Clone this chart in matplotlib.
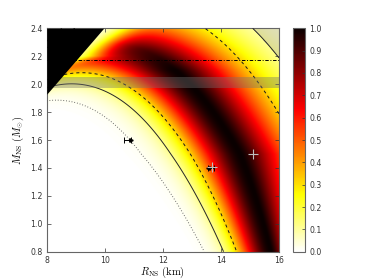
import numpy as np
import matplotlib
matplotlib.use('Agg')
import matplotlib.pyplot as plt

plt.rcParams['mathtext.fontset'] = 'cm'
plt.rcParams['lines.scale_dashes'] = False
plt.rcParams['font.family'] = ['DejaVu Sans']

# ---- data ----
r_range = [8.0, 16.0]
m_range = [0.8, 2.4]
x_ticks = [8, 10, 12, 14, 16]
y_ticks = [0.8, 1.0, 1.2, 1.4, 1.6, 1.8, 2.0, 2.2, 2.4]
cbar_ticks = [0.0, 0.1, 0.2, 0.3, 0.4, 0.5, 0.6, 0.7, 0.8, 0.9, 1.0]

# likelihood in apparent radius R_inf (km): peak and widths versus mass
mass_nodes = [0.8, 1.5, 2.4]
rinf_peak = [17.05, 17.55, 17.55]
rinf_sigma_low = [0.78, 1.07, 1.07]
rinf_scale_high = [0.9, 1.85, 1.85]
tail_power = 1.4

# brightness of the map versus mass (fades at the top)
amp_mass = [0.8, 2.1, 2.25, 2.4]
amp_value = [1.0, 1.0, 0.92, 0.8]

# soft suppression near the compactness limit (centre in M/R, versus mass)
supp_mass = [0.8, 2.1, 2.2, 2.4]
supp_centre = [0.27, 0.26, 0.228, 0.222]
supp_width = 0.008
compact_limit = 0.241          # M/R above which the region is black

contour_levels = [0.015, 0.12, 0.33]
band_mass = [1.97, 2.05]
limit_mass = 2.17

marker_left = [10.9, 1.6]
marker_mid = [13.54, 1.40]
plus_points_r = [13.69, 15.1]
plus_points_m = [1.41, 1.5]

# ---- figure ----
fig = plt.figure(figsize=(3.74, 2.80), dpi=100)
ax = fig.add_axes([46.7/374, 1-251.7/280, 232.3/374, 223.4/280])
cax = fig.add_axes([293/374, 1-251.7/280, 12/374, 223.4/280])

r = np.linspace(r_range[0], r_range[1], 600)
m = np.linspace(m_range[0], m_range[1], 600)
R, M = np.meshgrid(r, m)
x = 1 - 2.95 * M / R
Rinf = R / np.sqrt(np.clip(x, 1e-6, None))
c = np.interp(M, mass_nodes, rinf_peak)
sl = np.interp(M, mass_nodes, rinf_sigma_low)
sh = np.interp(M, mass_nodes, rinf_scale_high)
d = Rinf - c
g = np.where(d < 0, np.exp(-0.5 * (d / sl) ** 2),
             np.exp(-(np.abs(d) / sh) ** tail_power))
cc = np.interp(M, supp_mass, supp_centre)
s = 1.0 / (1.0 + np.exp((M / R - cc) / supp_width))
amp = np.interp(M, amp_mass, amp_value)
field = g * s * amp
field = field / field.max()

im = ax.imshow(field, origin='lower', extent=[r_range[0], r_range[1], m_range[0], m_range[1]],
               cmap='hot_r', vmin=0, vmax=1, aspect='auto', interpolation='bilinear', zorder=1)

# outer excluded region, lightly greyed
outer = ((d > 0) & (g < contour_levels[1])).astype(float)
ax.contourf(R, M, outer, levels=[0.5, 1.5], colors=['0.5'], alpha=0.25, zorder=2)

# contours
styles = [(0, (0.6, 1.4)), 'solid', (0, (2.2, 2.2))]
cols = ['0.35', '0.15', '0.1']
for lev, ls, col in zip(contour_levels, styles, cols):
    ax.contour(R, M, g, levels=[lev], colors=[col], linewidths=0.7, linestyles=[ls], zorder=3)

# mass band and limit
ax.axhspan(band_mass[0], band_mass[1], color='0.45', alpha=0.4, lw=0, zorder=4)
ax.axhline(limit_mass, color='k', lw=0.7, ls=(0, (2.5, 1.2, 0.7, 1.2)), zorder=4)

# black forbidden region
rl = np.linspace(r_range[0], r_range[1], 400)
ax.fill_between(rl, np.minimum(compact_limit * rl, m_range[1]), m_range[1], color='k', lw=0, zorder=5)

# markers
ax.errorbar([marker_left[0]], [marker_left[1]], xerr=[[0.23], [0]], fmt='>', color='k', ms=2.5,
            capsize=2, elinewidth=0.7, capthick=0.7, zorder=6)
ax.errorbar([marker_mid[0]], [marker_mid[1]], xerr=[[0], [0.23]], fmt='<', color='k', ms=2.5,
            capsize=2, elinewidth=0.7, capthick=0.7, zorder=6)
ax.plot(plus_points_r, plus_points_m, '+', color='0.75', ms=7, mew=0.8, zorder=7, ls='none')

ax.set_xlim(r_range)
ax.set_ylim(m_range)
ax.set_xticks(x_ticks)
ax.set_yticks(y_ticks)
ax.set_xticklabels([str(t) for t in x_ticks])
ax.set_yticklabels(['%.1f' % t for t in y_ticks])
ax.tick_params(direction='in', length=3, width=0.5, top=True, right=True, labelsize=5.6,
               colors='0.2', pad=3)
for sp in ax.spines.values():
    sp.set_color('0.4')
    sp.set_linewidth(0.8)

ax.set_xlabel(r'$R_{\rm NS}\ {\rm (km)}$', fontsize=7.6)
ax.set_ylabel(r'$M_{\rm NS}\ (M_{\odot})$', fontsize=7.6)
ax.xaxis.set_label_coords(0.5, -0.058)
ax.yaxis.set_label_coords(-0.088, 0.5)

cb = fig.colorbar(im, cax=cax, ticks=cbar_ticks)
cb.ax.tick_params(direction='in', length=2, width=0.5, labelsize=5.6, colors='0.2', pad=3)
cb.ax.set_yticklabels(['%.1f' % t for t in cbar_ticks])
cb.outline.set_edgecolor('0.4')
cb.outline.set_linewidth(0.8)

fig.savefig('out.png', dpi=100)
